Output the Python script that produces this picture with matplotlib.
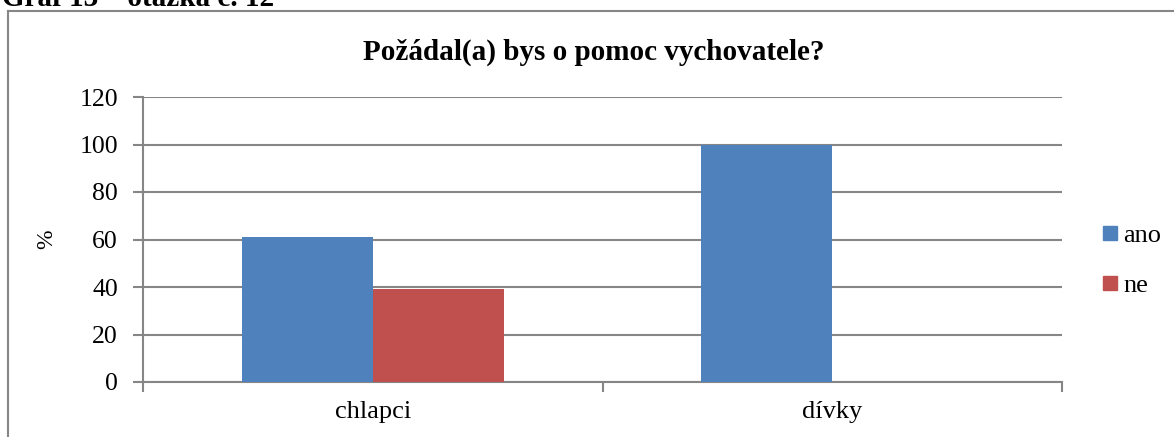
import matplotlib.pyplot as plt
import numpy as np
from matplotlib.lines import Line2D

plt.rcParams['font.family'] = ['Liberation Serif', 'DejaVu Serif']

# data
categories = ['chlapci', 'dívky']
ano = [61, 100]
ne = [39, 0]
series_names = ['ano', 'ne']
colors = ['#4F81BD', '#C0504D']
grey = '#868686'

W, H = 1174, 437
fig = plt.figure(figsize=(W / 100, H / 100), dpi=100)

# axes box in pixels: x 143..1062, y 97..382
ax = fig.add_axes([143 / W, 1 - 382 / H, (1062 - 143) / W, (382 - 97) / H])

x = np.arange(len(categories))
w = 0.285
ax.bar(x - w / 2, ano, w, color=colors[0], zorder=3, label=series_names[0])
ax.bar(x + w / 2, ne, w, color=colors[1], zorder=3, label=series_names[1])

ax.set_xlim(-0.5, 1.5)
ax.set_ylim(0, 120)
ax.set_yticks(range(0, 121, 20))
ax.yaxis.grid(True, color=grey, linewidth=1.5, zorder=0)
ax.set_axisbelow(True)

for s in ['top', 'right']:
    ax.spines[s].set_visible(False)
for s in ['left', 'bottom']:
    ax.spines[s].set_color(grey)
    ax.spines[s].set_linewidth(1.5)

ax.set_xticks([-0.5, 0.5, 1.5])
ax.set_xticklabels([])
ax.set_xticks(x, minor=True)
ax.set_xticklabels(categories, minor=True, fontsize=19)
ax.tick_params(axis='x', which='major', length=7, color=grey, width=1.5, direction='out')
ax.tick_params(axis='x', which='minor', length=0, pad=14)
ax.tick_params(axis='y', length=7, color=grey, width=1.5, direction='out', labelsize=18.5, pad=11)

ax.set_ylabel('%', fontsize=17)
ax.yaxis.set_label_coords(-(143 - 57) / (1062 - 143), 0.5)

ax.set_title('Požádal(a) bys o pomoc vychovatele?', fontsize=21, fontweight='bold', pad=27,
             x=(594 - 143) / (1062 - 143))

handles = [Line2D([], [], marker='s', linestyle='', markersize=10, color=c) for c in colors]
fig.legend(handles, series_names, loc='upper left', bbox_to_anchor=(1094 / W, 1 - 224 / H),
           frameon=False, fontsize=19, handletextpad=-0.1, labelspacing=1.0, handlelength=1.2,
           borderaxespad=0, borderpad=0)

# outer chart frame (left and top edges visible)
fig.add_artist(Line2D([8 / W, 8 / W], [0, 1 - 11 / H], transform=fig.transFigure, color=grey, lw=1.5))
fig.add_artist(Line2D([8 / W, 1], [1 - 11 / H, 1 - 11 / H], transform=fig.transFigure, color=grey, lw=1.5))

# header text, cut off at the top of the image as in the source
fig.text(2 / W, 1 - 6 / H, 'Graf 13 – otázka č. 12', fontsize=21, fontweight='bold', va='baseline', ha='left')

fig.savefig('out.png', dpi=100)
